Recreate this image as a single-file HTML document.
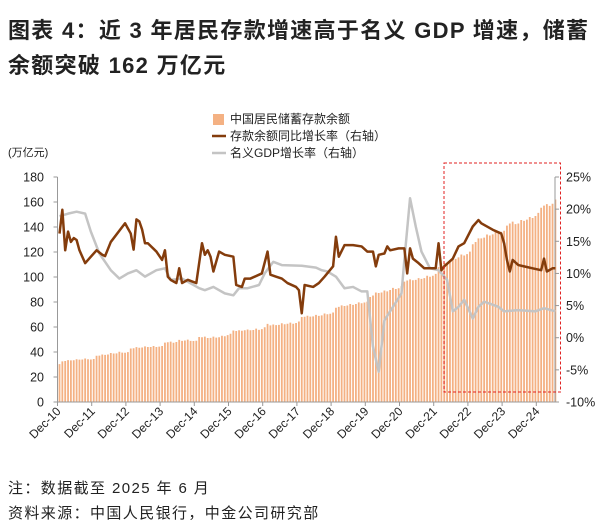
<!DOCTYPE html>
<html><head><meta charset="utf-8">
<style>
body{margin:0;background:#fff;width:606px;height:531px;overflow:hidden;font-family:"Liberation Sans","Noto Sans CJK SC",sans-serif;}
.t{position:absolute;left:8px;font-weight:bold;font-size:22px;color:#222;letter-spacing:1.3px;white-space:nowrap}
.f{position:absolute;left:8px;font-size:15px;color:#222;letter-spacing:1.4px;white-space:nowrap}
</style></head><body>
<div class="t" style="top:13px">图表 4：近 3 年居民存款增速高于名义 GDP 增速，储蓄</div>
<div class="t" style="top:48px">余额突破 162 万亿元</div>
<svg id="c" width="606" height="531" style="position:absolute;left:0;top:0"></svg>
<div class="f" style="top:477px">注：数据截至 2025 年 6 月</div>
<div class="f" style="top:502px">资料来源：中国人民银行，中金公司研究部</div>
<script>
const deposits=[30.3,
32.5,32.8,33.5,33.3,33.4,34.2,33.9,34.0,34.8,34.2,34.0,34.4,
37.0,37.1,38.0,37.7,38.0,39.2,38.8,38.9,40.2,39.5,39.4,39.9,
42.8,43.0,43.9,43.4,43.6,44.5,44.0,44.0,44.8,44.0,44.3,44.8,
47.5,47.8,48.3,47.4,48.0,49.7,48.9,49.2,49.9,48.9,48.8,49.0,
52.0,51.8,52.3,51.2,51.3,52.3,51.5,51.8,53.0,52.6,53.5,54.6,
57.2,56.8,57.4,57.0,57.4,58.0,57.4,57.6,58.7,57.7,58.3,59.8,
62.5,61.3,62.0,61.5,61.7,63.0,62.2,62.6,63.5,62.6,63.2,64.4,
68.0,68.2,69.0,68.3,68.5,69.7,68.9,69.3,70.8,70.2,70.6,71.6,
75.4,76.1,77.3,76.8,77.2,78.4,77.7,78.4,79.7,79.0,79.6,80.3,
84.0,85.2,87.6,87.2,87.6,89.2,88.5,89.6,91.3,90.4,91.0,92.6,
96.3,97.2,98.1,97.4,97.7,99.1,98.5,99.1,101.0,100.2,101.0,102.5,
107.9,108.7,111.4,111.0,112.1,114.6,114.5,115.7,118.0,117.2,118.3,120.3,
126.2,128.0,130.9,130.9,131.5,134.0,133.2,134.1,136.1,135.3,136.2,137.0,
141.1,142.8,144.3,142.3,142.8,145.6,144.9,145.9,148.0,147.2,148.8,151.3,
155.4,157.1,158.3,156.9,158.6,162.0];
const growthMonths=[0,1,2,3,4,5,6,7,9,11,13,15,16,18,23,25,26,27,28,29,30,31,34,36,37,38,39,41,42,43,45,48,50,51,52,53,54,56,58,61,62,64,65,67,71,73,74,76,78,80,83,84,85,86,89,91,93,96,97,98,100,103,106,108,110,111,112,114,115,116,119,121,122,123,124,126,128,131,132,133,134,135,138,140,142,145,147,148,152,155,156,157,158,159,161,163,166,169,170,171,173,174];
const growthValues=[16.2,19.9,13.6,16.5,14.9,15.5,15.2,13.6,11.6,12.6,13.6,12.9,12.7,14.9,17.8,16.2,13.7,18.4,18.1,16.8,14.7,14.7,13.4,12.1,13.6,9.5,9.0,8.5,10.8,8.5,9.0,8.5,14.7,12.9,13.6,12.6,10.3,13.4,12.9,12.6,8.2,7.9,9.2,9.2,10.0,13.4,9.8,9.5,9.2,8.5,7.9,7.4,3.8,8.2,7.9,8.5,9.5,11.1,15.7,12.6,14.4,14.4,14.2,13.4,13.4,11.1,12.9,13.1,14.2,13.6,13.9,13.9,10.0,13.9,12.3,11.6,10.8,10.8,10.8,14.7,10.5,11.1,12.3,14.2,14.7,17.3,18.3,17.8,16.8,16.2,14.7,12.1,10.3,12.1,11.3,11.1,10.8,10.5,12.3,10.3,10.8,10.8];
const gdpMonths=[0,3,6,9,11,14,18,21,24,27,30,34,37,39,43,49,51,54,58,61,63,66,70,72,75,78,85,90,92,94,97,100,103,106,108,110,112,114,117,120,121,123,125,127,130,133,136,138,140,142,145,147,149,151,154,156,161,167,170,174];
const gdpValues=[18.9,19.3,19.6,19.3,16.5,13.1,10.5,9.2,10.0,10.5,9.5,10.5,10.8,9.0,9.2,7.7,7.4,7.9,6.9,6.6,7.7,7.7,8.2,10.0,11.8,11.3,11.2,10.9,10.5,10.3,9.5,7.7,7.9,7.2,7.2,-1.4,-5.3,2.7,4.8,6.9,12.1,21.7,17.3,13.4,10.8,10.5,9.0,4.1,4.8,5.9,3.0,4.8,5.6,5.3,4.8,4.1,4.3,4.1,4.6,4.1];
const leftTicks=[0,20,40,60,80,100,120,140,160,180];
const rightTicks=[-10,-5,0,5,10,15,20,25];
const xLabels=["Dec-10","Dec-11","Dec-12","Dec-13","Dec-14","Dec-15","Dec-16","Dec-17","Dec-18","Dec-19","Dec-20","Dec-21","Dec-22","Dec-23","Dec-24"];

const svg=document.getElementById('c');const NS='http://www.w3.org/2000/svg';
const X0=57.5,MW=2.85,YB=402,YT=177;
const xm=i=>X0+2+i*MW;
const yl=v=>YB-(v/180)*(YB-YT);
const yr=v=>YB-((v+10)/35)*(YB-YT);
function mk(tag,at,txt){const e=document.createElementNS(NS,tag);for(const k in at)e.setAttribute(k,at[k]);if(txt!=null)e.textContent=txt;svg.appendChild(e);return e;}
deposits.forEach((v,i)=>{const r=mk('rect',{x:xm(i)-0.9,y:yl(v),width:1.8,height:YB-yl(v),fill:'#f4b183'});

});
mk('line',{x1:X0,y1:YT,x2:X0,y2:YB,stroke:'#999'});
mk('line',{x1:X0,y1:YB,x2:555,y2:YB,stroke:'#999'});
mk('line',{x1:555,y1:YT,x2:555,y2:YB,stroke:'#999'});
leftTicks.forEach(v=>{mk('line',{x1:X0-4,y1:yl(v),x2:X0,y2:yl(v),stroke:'#999'});
const t=mk('text',{x:44,y:yl(v)+4.5,'text-anchor':'end','font-size':12.5,fill:'#222'},v);

});
rightTicks.forEach(v=>{mk('line',{x1:555,y1:yr(v),x2:559,y2:yr(v),stroke:'#999'});
const t=mk('text',{x:566,y:yr(v)+4.5,'font-size':12.5,fill:'#222'},v+'%');

});
xLabels.forEach((s,k)=>{const x=X0+k*12*MW;mk('line',{x1:x,y1:YB,x2:x,y2:YB+4,stroke:'#999'});
const t=mk('text',{x:x+4,y:YB+10,'text-anchor':'end','font-size':12,fill:'#222',transform:`rotate(-45 ${x+4} ${YB+10})`},s);

});
function line(ms,vs,col,name){const p=mk('polyline',{points:ms.map((m,i)=>xm(m)+','+yr(vs[i])).join(' '),fill:'none',stroke:col,'stroke-width':2.5,'stroke-linejoin':'round'});

}
line(gdpMonths,gdpValues,'#c4c4c4','gdp-growth-line');
line(growthMonths,growthValues,'#843c0c','deposit-growth-line');
const box=mk('rect',{x:444,y:163,width:116.5,height:229,fill:'none',stroke:'#e02020','stroke-dasharray':'3,2','stroke-width':1});


const u=mk('text',{x:8,y:156,'font-size':11,fill:'#222'},'(万亿元)');


mk('rect',{x:213,y:114,width:11,height:11,fill:'#f4b183'});
mk('line',{x1:212,y1:136,x2:226,y2:136,stroke:'#843c0c','stroke-width':2.5});
mk('line',{x1:212,y1:153,x2:226,y2:153,stroke:'#c4c4c4','stroke-width':2.5});
[['中国居民储蓄存款余额',123,'legend-deposits'],['存款余额同比增长率（右轴）',140,'legend-deposit-growth'],['名义GDP增长率（右轴）',157,'legend-gdp-growth']].forEach(a=>{
const t=mk('text',{x:230,y:a[1],'font-size':12,fill:'#222'},a[0]);

});
</script>
</body></html>
